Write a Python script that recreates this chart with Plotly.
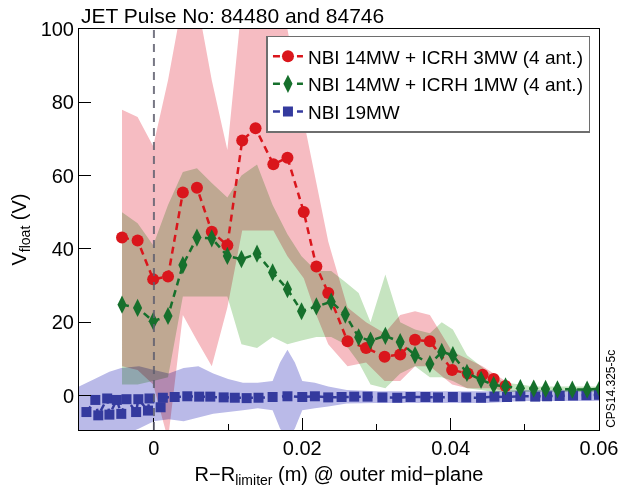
import plotly.graph_objects as go

# ---------------- data ----------------
red_x = [-0.0043, -0.0022, -0.0001, 0.0019, 0.0039, 0.0058, 0.0078, 0.0099, 0.0119, 0.0137,
         0.0161, 0.0180, 0.0202, 0.0219, 0.0235, 0.0261, 0.0286, 0.0311, 0.0332, 0.0352,
         0.0372, 0.0402, 0.0423, 0.0443, 0.0458, 0.0474]
red_y = [43.1, 42.3, 31.7, 32.5, 55.4, 56.7, 44.7, 41.0, 69.6, 72.9,
         63.1, 64.9, 50.1, 35.2, 28.0, 14.8, 13.0, 10.6, 11.2, 15.2,
         14.8, 7.0, 6.0, 5.7, 4.5, 2.6]
red_hi = [78, 76, 68, 86, 108, 108, 86, 67, 108, 108,
          108, 100, 75, 58, 42, 24, 20, 17, 22, 23,
          22, 12, 10, 8, 6, 4]
red_lo = [8, 7, 3, -12, 22, 15, 8, 24, 45, 45,
          45, 38, 32, 22, 14, 8, 9, 4, 4, 8,
          8, 3, 2, 2, 2, 1]

green_x = [-0.0043, -0.0022, -0.0001, 0.0019, 0.0039, 0.0058, 0.0078, 0.0099, 0.0118, 0.0139,
           0.0160, 0.0180, 0.0199, 0.0219, 0.0239, 0.0258, 0.0276, 0.0292, 0.0312, 0.0332,
           0.0352, 0.0372, 0.0388, 0.0403, 0.0422, 0.0441, 0.0458, 0.0474, 0.0494, 0.0512,
           0.0528, 0.0544, 0.0564, 0.0584, 0.0601]
green_y = [24.8, 23.9, 20.3, 21.7, 35.6, 43.1, 42.9, 38.1, 37.2, 38.7,
           33.6, 29.0, 23.0, 24.3, 25.6, 22.1, 15.9, 15.0, 16.3, 14.6,
           11.0, 8.6, 11.9, 11.0, 6.2, 4.3, 2.9, 2.5, 2.0, 1.9,
           1.8, 1.7, 1.6, 1.6, 1.9]
green_hi = [50, 47, 41, 52, 61, 62, 58, 54, 60, 63,
            52, 44, 38, 34, 34, 31, 28, 20, 33, 20,
            18, 17, 20, 18, 11, 8, 5, 3.5, 3, 2.5,
            2.5, 2.5, 2.5, 2.5, 2.5]
green_lo = [3, 3, 4, 5, 27, 27, 27, 27, 14, 13,
            16, 14, 15, 16, 16, 14, 9, 3, 2, 6,
            8, 5, 5, 4, 2, 1.5, 1, 1, 1, 1,
            1, 1, 1, 1, 1]

blue_x = [-0.0091, -0.0079, -0.0075, -0.0063, -0.0060, -0.0050, -0.0044, -0.0037, -0.0024, -0.0021,
          -0.0008, -0.0006, 0.0009, 0.0012, 0.0028, 0.0045, 0.0061, 0.0076, 0.0094, 0.0109,
          0.0125, 0.0141, 0.0160, 0.0180, 0.0200, 0.0217, 0.0235, 0.0253, 0.0270, 0.0288,
          0.0308, 0.0328, 0.0346, 0.0366, 0.0383, 0.0403, 0.0421, 0.0441, 0.0459, 0.0476,
          0.0494, 0.0514, 0.0530, 0.0547, 0.0565, 0.0583, 0.0600]
blue_y = [-4.5, -1.2, -5.4, -0.8, -5.2, -1.2, -5.0, -1.0, -4.5, -1.0,
          -4.1, -0.8, -3.2, -0.6, -0.4, -0.2, -0.3, -0.3, -0.5, -0.6,
          -0.7, -0.6, -0.4, -0.2, -0.4, -0.2, -0.5, -0.4, -0.3, -0.3,
          -0.5, -0.6, -0.4, -0.4, -0.5, -0.4, -0.5, -0.6, -0.3, -0.4,
          -0.2, -0.3, -0.2, -0.1, 0.0, 0.1, 0.2]
blue_band_x = [-0.0101, -0.0080, -0.0060, -0.0044, -0.0020, 0.0000, 0.0020, 0.0040, 0.0060, 0.0080,
               0.0100, 0.0120, 0.0140, 0.0160, 0.0170, 0.0180, 0.0190, 0.0200, 0.0217, 0.0235,
               0.0260, 0.0300, 0.0350, 0.0400, 0.0450, 0.0500, 0.0550, 0.0600]
blue_hi = [2.5, 4.5, 6.5, 7.5, 8, 7, 6, 7.5, 8, 6,
           4.5, 3.5, 3.5, 4, 9, 12.5, 9, 4, 3.5, 2.5,
           1.5, 1.2, 1.2, 1.2, 1.2, 1.5, 1.5, 1.5]
blue_lo = [-12, -12, -12, -11, -9, -7, -6.5, -7, -6, -5,
           -4.5, -4, -3.5, -4, -9, -12, -9, -4, -3.5, -3,
           -2.2, -2, -2, -2, -2, -1.5, -1.5, -1.5]

labels = ["NBI 14MW + ICRH 3MW (4 ant.)", "NBI 14MW + ICRH 1MW (4 ant.)", "NBI 19MW"]
x_tickvals = [0, 0.02, 0.04, 0.06]
x_ticktext = ["0", "0.02", "0.04", "0.06"]
y_tickvals = [0, 20, 40, 60, 80, 100]

RED = "rgb(218,22,28)"
GREEN = "rgb(22,112,44)"
BLUE = "rgb(52,58,158)"

fig = go.Figure()

def band(x, hi, lo, color):
    fig.add_trace(go.Scatter(
        x=list(x) + list(x)[::-1], y=list(hi) + list(lo)[::-1],
        fill="toself", fillcolor=color, mode="none",
        showlegend=False, hoverinfo="skip"))

band(blue_band_x, blue_hi, blue_lo, "rgb(186,186,232)")
band(red_x, red_hi, red_lo, "rgb(246,188,194)")
band(green_x, green_hi, green_lo, "rgb(198,228,192)")

fig.add_trace(go.Scatter(x=blue_x, y=blue_y, name=labels[2], legendrank=3,
                         mode="lines+markers",
                         line=dict(color=BLUE, width=2.5, dash="7px,5px"),
                         marker=dict(symbol="square", size=10, color=BLUE)))
fig.add_trace(go.Scatter(x=red_x, y=red_y, name=labels[0], legendrank=1,
                         mode="lines+markers",
                         line=dict(color=RED, width=2.5, dash="7px,5px"),
                         marker=dict(symbol="circle", size=12, color=RED)))
fig.add_trace(go.Scatter(x=green_x, y=green_y, name=labels[1], legendrank=2,
                         mode="lines+markers",
                         line=dict(color=GREEN, width=2.5, dash="7px,5px"),
                         marker=dict(symbol="diamond-tall", size=13, color=GREEN)))

fig.add_vline(x=0, line=dict(color="rgba(95,95,110,0.85)", width=2, dash="8px,6px"), layer="above")

FONT = "Liberation Sans, Arial, sans-serif"
fig.update_layout(
    width=630, height=493,
    margin=dict(l=79, r=24, t=29, b=55),
    paper_bgcolor="white", plot_bgcolor="white",
    font=dict(family=FONT, size=20, color="black"),
    showlegend=True,
    legend=dict(x=0.3605, y=0.983, xanchor="left", yanchor="top",
                bgcolor="white", bordercolor="rgb(110,110,110)", borderwidth=1.5,
                font=dict(size=19), tracegroupgap=0),
)
fig.update_xaxes(range=[-0.0101, 0.06], showgrid=False, zeroline=False,
                 showline=True, linecolor="black", linewidth=1, mirror=True,
                 ticks="inside", ticklen=12, tickcolor="black",
                 tickvals=x_tickvals, ticktext=x_ticktext,
                 minor=dict(tickvals=[0.01, 0.03, 0.05], ticks="inside", ticklen=6, tickcolor="black"),
                 title=dict(text="R\u2212R<sub>limiter</sub> (m) @ outer mid\u2212plane", font=dict(size=20), standoff=8))
fig.update_yaxes(range=[-9.4, 100], showgrid=False, zeroline=False,
                 showline=True, linecolor="black", linewidth=1, mirror=True,
                 ticks="inside", ticklen=12, tickcolor="black",
                 tickvals=y_tickvals,
                 title=dict(text="V<sub>float</sub> (V)", font=dict(size=20), standoff=8))

fig.add_annotation(text="JET Pulse No: 84480 and 84746", xref="paper", yref="paper",
                   x=0, y=1, xanchor="left", yanchor="bottom", yshift=0,
                   showarrow=False, font=dict(size=21))
fig.add_annotation(text="CPS14.325-5c", xref="paper", yref="paper",
                   x=1.0228, y=0, xanchor="center", yanchor="bottom", textangle=-90,
                   showarrow=False, font=dict(size=12))

post = "document.querySelectorAll('.js-fill, .js-tonext').forEach(function(e){e.style.mixBlendMode='multiply';});"
fig.write_html("out.html", post_script=post)
